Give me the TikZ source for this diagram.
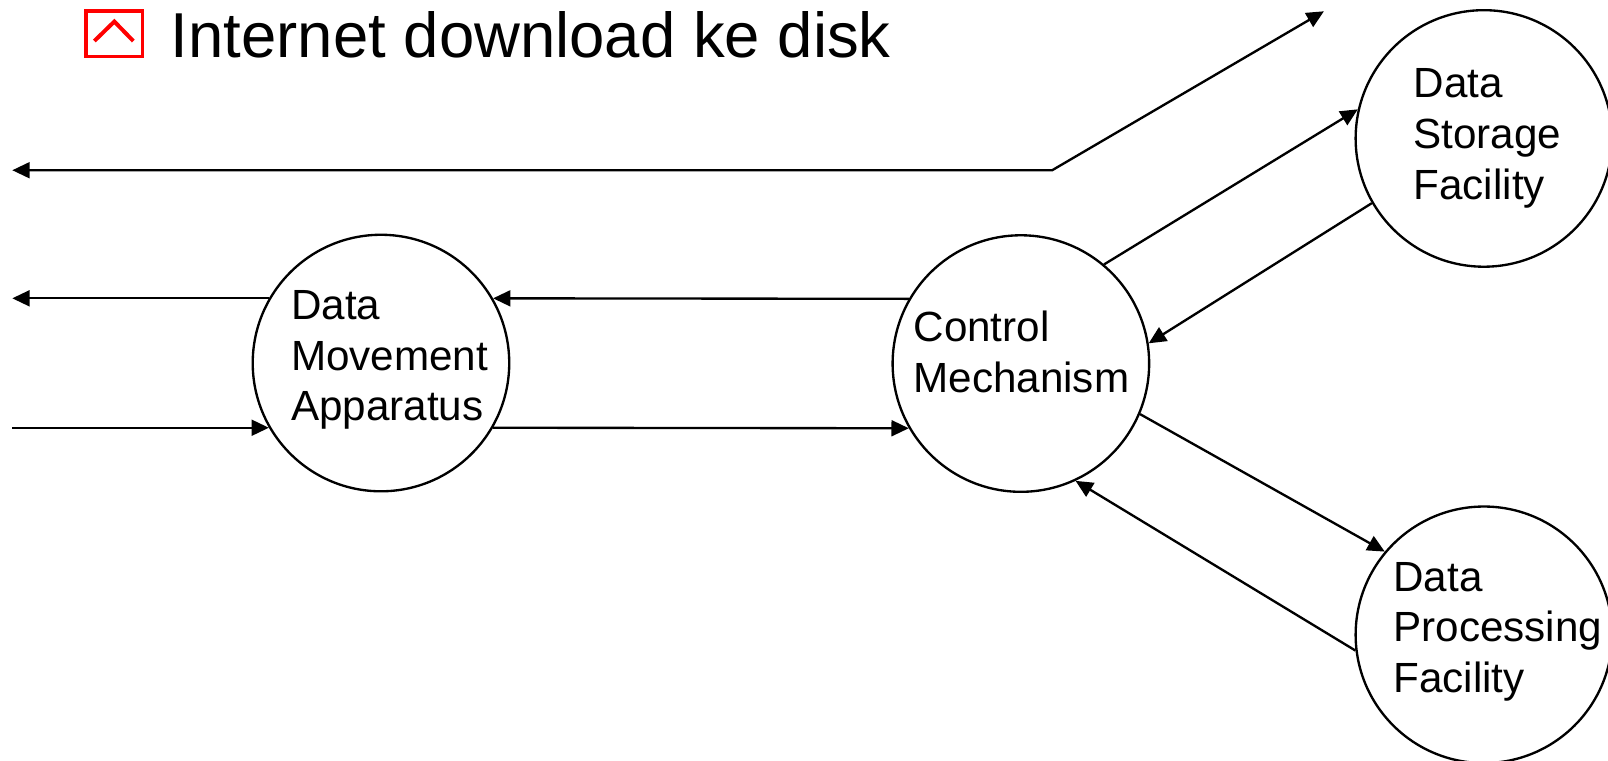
\documentclass[tikz,border=0pt]{standalone}
\usepackage{fontspec}
\setmainfont{Liberation Sans}
\usetikzlibrary{arrows.meta}

\begin{document}
\begin{tikzpicture}[x=0.01cm, y=-0.01cm,
		>={Triangle[length=4.8pt, width=4.4pt]},
		blob/.style={circle, draw, line width=0.65pt, minimum size=2.5cm, inner sep=0pt},
		blobtext/.style={align=left, inner sep=0pt, font=\fontsize{11.7}{14.1}\selectfont},
		flow/.style={line width=0.65pt, ->}]
		%%%%% START %%%%%
		\useasboundingbox (0, 0) rectangle (1568, 742);
		
		\draw[line width=1pt, color=red] (84, 11) rectangle (139, 55);
		\draw[line width=1.1pt, color=red] (92, 40) -- (111.5, 21) -- (130, 40);
		\node[anchor=base west, inner sep=0pt, font=\fontsize{17.6}{20}\selectfont] (title) at (166, 56) {Internet download ke disk};
		
		\node[blob] (mov) at (371.5, 354) {};
		\node[blob] (ctrl) at (995.5, 354.5) {};
		\node[blob] (store) at (1447, 135) {};
		\node[blob] (proc) at (1447, 619) {};
		
		\node[blobtext] (movtxt) at ([shift={(8.5, -3)}]mov.center) {Data\\Movement\\Apparatus};
		\node[blobtext] (ctrltxt) at ([shift={(0.5, -11)}]ctrl.center) {Control\\Mechanism};
		\node[blobtext] (storetxt) at ([shift={(3.5, 0)}]store.center) {Data\\Storage\\Facility};
		\node[blobtext] (proctxt) at ([shift={(13.5, -3)}]proc.center) {Data\\Processing\\Facility};
		
		\coordinate (lft) at (12, 0);
		\coordinate (bend) at (1026, 166);
		\coordinate (outup) at (1291, 11);
		
		\draw[flow, <->] (bend -| lft) -- (bend) -- (outup);
		
		\draw[flow] (mov.150) -- (mov.150 -| lft);
		\draw[flow] (mov.-150 -| lft) -- (mov.-150);
		\draw[flow] (ctrl.150) -- (mov.30);
		\draw[flow] (mov.-30) -- (ctrl.-150);
		
		\draw[flow] (ctrl.50) -- (store.167);
		\draw[flow] (store.210) -- (ctrl.9);
		\draw[flow] (ctrl.-23) -- (proc.140);
		\draw[flow] (proc.187) -- (ctrl.-65);
		
		%%%%% END %%%%%
	\end{tikzpicture}
\end{document}
